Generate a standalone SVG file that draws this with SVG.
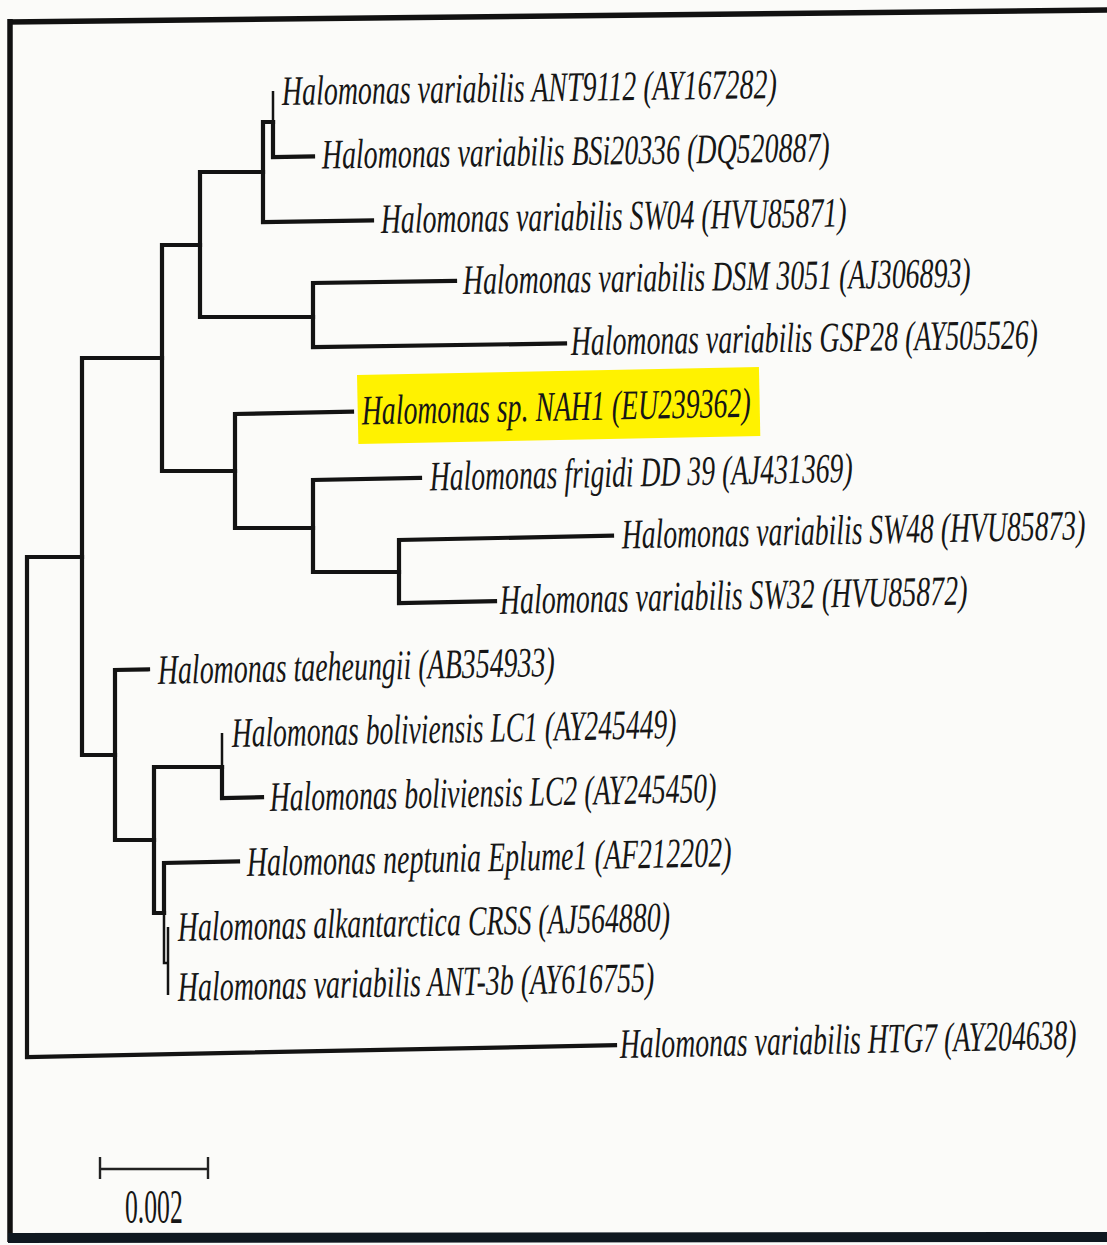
<svg xmlns="http://www.w3.org/2000/svg" width="1107" height="1245" viewBox="0 0 1107 1245">
<style>
.lbl{font-family:"Liberation Serif","Times New Roman",serif;font-style:italic;font-size:42px;fill:#161616}
.br{fill:none;stroke:#131313;stroke-width:4.2;stroke-linejoin:miter;stroke-linecap:square}
.thin{fill:none;stroke:#131313;stroke-width:2.5;stroke-linecap:butt}
.frame{fill:none;stroke:#111;stroke-width:5.5}
.scale{fill:none;stroke:#222;stroke-width:2.4}
.sc{font-family:"Liberation Serif","Times New Roman",serif;font-size:48px;fill:#161616}
</style>
<rect x="0" y="0" width="1107" height="1245" fill="#fbfbf9"/>
<g id="frame">
<line class="frame" x1="8" y1="22" x2="1107" y2="10"/>
<line class="frame" x1="10" y1="19" x2="10" y2="1242"/>
<line x1="8" y1="1238" x2="1107" y2="1237" stroke="#0f1820" stroke-width="10"/>
</g>
<g id="connectors">
<path class="br" d="M82 557 H27 V1057 L615 1045.2"/>
<path class="br" d="M162 358 H82 V755 H115"/>
<path class="br" d="M200 245 H162 V471 H235"/>
<path class="br" d="M263 172 H200 V317 H313"/>
<path class="br" d="M273 122 H263 V222 L372 220.5"/>
<path class="thin" d="M273 91 V122"/>
<path class="br" d="M273 122 V157 L313 156.4"/>
<path class="br" d="M455 281 L313 283 V347 L565 343.5"/>
<path class="br" d="M352 411.7 L235 414 V528 H313"/>
<path class="br" d="M420 477.9 L313 480 V572 H399"/>
<path class="br" d="M612 535.7 L399 540 V603 L495 601.1"/>
<path class="br" d="M148 669.3 L115 670 V840 H154"/>
<path class="br" d="M222 767 H154 V913 H164"/>
<path class="thin" d="M222 733 V767"/>
<path class="br" d="M222 767 V798 L262 797.2"/>
<path class="br" d="M238 861.5 L164 863 V913"/>
<path class="thin" d="M164 913 V963 H169"/>
<path class="thin" d="M168 927 V995"/>
</g>
<g id="n-ANT9112"><text class="lbl" x="0" y="0" textLength="728" lengthAdjust="spacingAndGlyphs" transform="translate(282 105) rotate(-0.8) scale(0.68 1)">Halomonas variabilis ANT9112 (AY167282)</text></g>
<g id="n-BSi20336"><text class="lbl" x="0" y="0" textLength="747" lengthAdjust="spacingAndGlyphs" transform="translate(322 168.5) rotate(-0.8) scale(0.68 1)">Halomonas variabilis BSi20336 (DQ520887)</text></g>
<g id="n-SW04"><text class="lbl" x="0" y="0" textLength="685" lengthAdjust="spacingAndGlyphs" transform="translate(381 233) rotate(-0.8) scale(0.68 1)">Halomonas variabilis SW04 (HVU85871)</text></g>
<g id="n-DSM3051"><text class="lbl" x="0" y="0" textLength="747" lengthAdjust="spacingAndGlyphs" transform="translate(463 294) rotate(-0.8) scale(0.68 1)">Halomonas variabilis DSM 3051 (AJ306893)</text></g>
<g id="n-GSP28"><text class="lbl" x="0" y="0" textLength="687" lengthAdjust="spacingAndGlyphs" transform="translate(571 355) rotate(-0.8) scale(0.68 1)">Halomonas variabilis GSP28 (AY505526)</text></g>
<g id="n-NAH1">
<rect x="357" y="375" width="402" height="69" fill="#fff200" transform="rotate(-1.15 357 375)"/>
<text class="lbl" x="0" y="0" textLength="572" lengthAdjust="spacingAndGlyphs" transform="translate(362 424.5) rotate(-1.15) scale(0.68 1)">Halomonas sp. NAH1 (EU239362)</text>
</g>
<g id="n-DD39"><text class="lbl" x="0" y="0" textLength="622" lengthAdjust="spacingAndGlyphs" transform="translate(430 490.5) rotate(-1.15) scale(0.68 1)">Halomonas frigidi DD 39 (AJ431369)</text></g>
<g id="n-SW48"><text class="lbl" x="0" y="0" textLength="682" lengthAdjust="spacingAndGlyphs" transform="translate(622 548.5) rotate(-1.15) scale(0.68 1)">Halomonas variabilis SW48 (HVU85873)</text></g>
<g id="n-SW32"><text class="lbl" x="0" y="0" textLength="688" lengthAdjust="spacingAndGlyphs" transform="translate(500 614) rotate(-1.15) scale(0.68 1)">Halomonas variabilis SW32 (HVU85872)</text></g>
<g id="n-taeheungii"><text class="lbl" x="0" y="0" textLength="584" lengthAdjust="spacingAndGlyphs" transform="translate(158 684) rotate(-1.15) scale(0.68 1)">Halomonas taeheungii (AB354933)</text></g>
<g id="n-LC1"><text class="lbl" x="0" y="0" textLength="654" lengthAdjust="spacingAndGlyphs" transform="translate(232 747) rotate(-1.15) scale(0.68 1)">Halomonas boliviensis LC1 (AY245449)</text></g>
<g id="n-LC2"><text class="lbl" x="0" y="0" textLength="657" lengthAdjust="spacingAndGlyphs" transform="translate(270 811) rotate(-1.15) scale(0.68 1)">Halomonas boliviensis LC2 (AY245450)</text></g>
<g id="n-Eplume1"><text class="lbl" x="0" y="0" textLength="713" lengthAdjust="spacingAndGlyphs" transform="translate(247 876) rotate(-1.15) scale(0.68 1)">Halomonas neptunia Eplume1 (AF212202)</text></g>
<g id="n-CRSS"><text class="lbl" x="0" y="0" textLength="724" lengthAdjust="spacingAndGlyphs" transform="translate(178 941) rotate(-1.15) scale(0.68 1)">Halomonas alkantarctica CRSS (AJ564880)</text></g>
<g id="n-ANT3b"><text class="lbl" x="0" y="0" textLength="701" lengthAdjust="spacingAndGlyphs" transform="translate(178 1001) rotate(-1.15) scale(0.68 1)">Halomonas variabilis ANT-3b (AY616755)</text></g>
<g id="n-HTG7"><text class="lbl" x="0" y="0" textLength="672" lengthAdjust="spacingAndGlyphs" transform="translate(620 1058) rotate(-1.15) scale(0.68 1)">Halomonas variabilis HTG7 (AY204638)</text></g>
<g id="scalebar">
<path class="scale" d="M100 1169 H208 M100 1157 V1179 M208 1157 V1179"/>
<text class="sc" x="0" y="0" textLength="107" lengthAdjust="spacingAndGlyphs" transform="translate(125 1223) scale(0.54 1)">0.002</text>
</g>
</svg>
